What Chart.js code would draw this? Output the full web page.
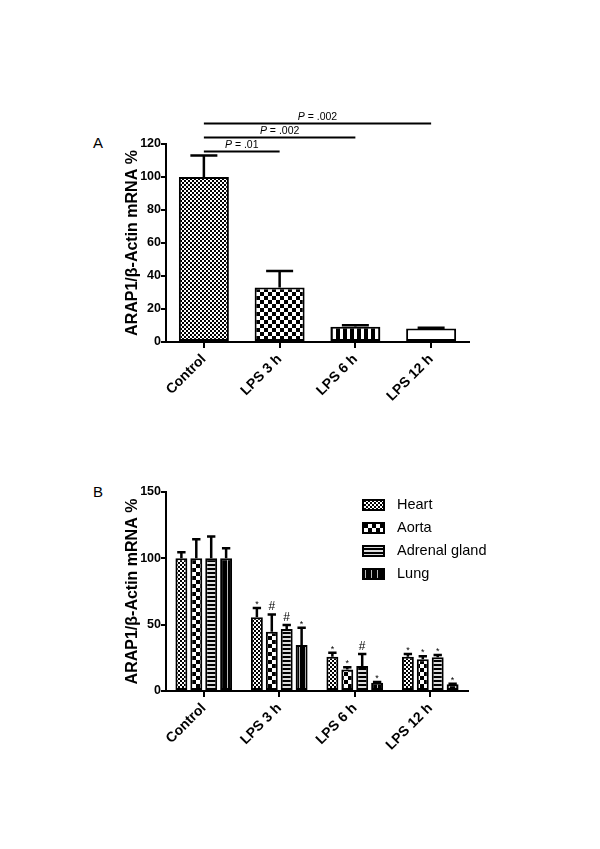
<!DOCTYPE html>
<html>
<head>
<meta charset="utf-8">
<script src="https://cdn.jsdelivr.net/npm/chart.js@4.4.0/dist/chart.umd.min.js"></script>
<style>
  body { margin: 0; background: #fff; width: 600px; height: 849px; position: relative; overflow: hidden;
         font-family: "Liberation Sans", Arial, sans-serif; }
  canvas { position: absolute; left: 0; }
  #chartA { top: 0; }
  #chartB { top: 440px; }
  .panel { position: absolute; font-size: 15px; color: #000; }
</style>
</head>
<body>
<div class="panel" style="left:93px;top:134px">A</div>
<div class="panel" style="left:93px;top:483px">B</div>
<canvas id="chartA" width="600" height="440"></canvas>
<canvas id="chartB" width="600" height="340"></canvas>
<script>
// panel A
const groupsA = ['Control', 'LPS 3 h', 'LPS 6 h', 'LPS 12 h'];
const meanA = [100, 33, 9.3, 8.2];
const sdA = [13, 10, 0.8, 0.4];
// significance brackets in panel A (category index from/to, height in % units)
const sigFrom = [0, 0, 0];
const sigTo = [1, 2, 3];
const sigLevel = [115.5, 124, 132.5];
const sigText = ['.01', '.002', '.002'];

// panel B
const groupsB = ['Control', 'LPS 3 h', 'LPS 6 h', 'LPS 12 h'];
const tissues = ['Heart', 'Aorta', 'Adrenal gland', 'Lung'];
const heart = [100, 55.5, 25.8, 25.8];
const aorta = [100, 44.7, 16.3, 24];
const adrenal = [100, 46.8, 18.9, 25.4];
const lung = [100, 34.7, 6.3, 5];
const heartSd = [4.5, 7, 3, 2];
const aortaSd = [14.4, 13, 1.6, 2.2];
const adrenalSd = [16.4, 3, 9, 1.8];
const lungSd = [7.6, 13, 0.4, 0.5];
const heartMarks = ['', '*', '*', '*'];
const aortaMarks = ['', '#', '*', '*'];
const adrenalMarks = ['', '#', '#', '*'];
const lungMarks = ['', '*', '*', '*'];

const FONT = '"Liberation Sans", Arial, sans-serif';
Chart.defaults.font.family = FONT;
Chart.defaults.color = '#000';

function makePattern(kind) {
  const c = document.createElement('canvas');
  const g = c.getContext('2d');
  if (kind === 'fine' || kind === 'coarse') {
    const s = kind === 'fine' ? 2 : 4;
    c.width = c.height = s * 2;
    g.fillStyle = '#fff'; g.fillRect(0, 0, s * 2, s * 2);
    g.fillStyle = '#000'; g.fillRect(0, 0, s, s); g.fillRect(s, s, s, s);
  } else if (kind === 'hstripe') {
    c.width = 4; c.height = 4;
    g.fillStyle = '#000'; g.fillRect(0, 0, 4, 4);
    g.fillStyle = '#ddd'; g.fillRect(0, 2, 4, 2);
  } else if (kind === 'vstripe') {
    c.width = 7; c.height = 4;
    g.fillStyle = '#fff'; g.fillRect(0, 0, 7, 4);
    g.fillStyle = '#000'; g.fillRect(0, 0, 4, 4);
  } else if (kind === 'vline') {
    c.width = 6; c.height = 4;
    g.fillStyle = '#000'; g.fillRect(0, 0, 6, 4);
    g.fillStyle = '#bbb'; g.fillRect(5, 0, 1, 4);
  }
  return g.createPattern(c, 'repeat');
}

const errorBars = {
  id: 'errorBars',
  afterDatasetsDraw(chart, args, opts) {
    const ctx = chart.ctx, y = chart.scales.y;
    chart.data.datasets.forEach((ds, di) => {
      chart.getDatasetMeta(di).data.forEach((bar, i) => {
        const top = y.getPixelForValue(ds.data[i] + ds.sd[i]);
        const half = bar.width * opts.cap / 2;
        ctx.save();
        ctx.strokeStyle = '#000';
        ctx.lineWidth = opts.width;
        ctx.beginPath();
        ctx.moveTo(bar.x, bar.y);
        ctx.lineTo(bar.x, top);
        ctx.moveTo(bar.x - half, top);
        ctx.lineTo(bar.x + half, top);
        ctx.stroke();
        if (ds.marks && ds.marks[i]) {
          const m = ds.marks[i];
          ctx.fillStyle = '#000';
          ctx.textAlign = 'center';
          ctx.textBaseline = 'alphabetic';
          ctx.font = (m === '#' ? '12px ' : '9px ') + FONT;
          ctx.fillText(m, bar.x, top - (m === '#' ? 4 : 1));
        }
        ctx.restore();
      });
    });
  }
};

const sigBrackets = {
  id: 'sigBrackets',
  afterDraw(chart) {
    const ctx = chart.ctx, x = chart.scales.x, y = chart.scales.y;
    sigFrom.forEach((f, k) => {
      const x1 = x.getPixelForValue(f), x2 = x.getPixelForValue(sigTo[k]);
      const yy = y.getPixelForValue(sigLevel[k]);
      ctx.save();
      ctx.strokeStyle = '#000';
      ctx.lineWidth = 2;
      ctx.beginPath();
      ctx.moveTo(x1, yy);
      ctx.lineTo(x2, yy);
      ctx.stroke();
      const pFont = 'italic 10.5px ' + FONT, rFont = '10.5px ' + FONT;
      const rest = ' = ' + sigText[k];
      ctx.font = pFont; const wP = ctx.measureText('P').width;
      ctx.font = rFont; const wR = ctx.measureText(rest).width;
      let tx = (x1 + x2) / 2 - (wP + wR) / 2;
      ctx.fillStyle = '#000';
      ctx.textAlign = 'left';
      ctx.textBaseline = 'alphabetic';
      ctx.font = pFont; ctx.fillText('P', tx, yy - 3);
      ctx.font = rFont; ctx.fillText(rest, tx + wP, yy - 3);
      ctx.restore();
    });
  }
};

const legendB = {
  id: 'legendB',
  afterDraw(chart) {
    const ctx = chart.ctx, area = chart.chartArea;
    chart.data.datasets.forEach((ds, i) => {
      const bx = area.left + 197, cy = area.top + 13 + i * 23;
      ctx.save();
      ctx.fillStyle = ds.backgroundColor;
      ctx.fillRect(bx, cy - 5, 21, 10);
      ctx.strokeStyle = '#000';
      ctx.lineWidth = 2;
      ctx.strokeRect(bx, cy - 5, 21, 10);
      ctx.fillStyle = '#000';
      ctx.font = '14.5px ' + FONT;
      ctx.textAlign = 'left';
      ctx.textBaseline = 'middle';
      ctx.fillText(ds.label, bx + 34, cy);
      ctx.restore();
    });
  }
};

function axisOptions(yMax, step) {
  return {
    x: {
      grid: { offset: false, drawOnChartArea: false, drawTicks: true, tickLength: 6, color: '#000', lineWidth: 2 },
      border: { display: true, color: '#000', width: 2 },
      ticks: { autoSkip: false, minRotation: 45, maxRotation: 45, padding: 3,
               font: { size: 14, weight: 'bold' }, color: '#000' },
      afterFit(scale) { scale.height = 80; }
    },
    y: {
      min: 0, max: yMax,
      grid: { drawOnChartArea: false, drawTicks: true, tickLength: 5, color: '#000', lineWidth: 2 },
      border: { display: true, color: '#000', width: 2 },
      ticks: { stepSize: step, padding: 0, font: { size: 12.5, weight: 'bold' }, color: '#000' },
      title: { display: true, text: 'ARAP1/β-Actin mRNA %', padding: { top: 3, bottom: 0 },
               font: { size: 16, weight: 'bold' }, color: '#000' },
      afterFit(scale) { scale.width = 46; }
    }
  };
}

new Chart(document.getElementById('chartA'), {
  type: 'bar',
  data: {
    labels: groupsA,
    datasets: [{
      label: 'ARAP1',
      data: meanA,
      sd: sdA,
      backgroundColor: [makePattern('fine'), makePattern('coarse'), makePattern('vstripe'), '#fff'],
      borderColor: '#000',
      borderWidth: 2,
      borderSkipped: false,
      barPercentage: 0.66,
      categoryPercentage: 1
    }]
  },
  options: {
    responsive: false,
    animation: false,
    layout: { padding: { left: 120, top: 144, right: 131, bottom: 18 } },
    plugins: { legend: { display: false }, tooltip: { enabled: false },
               errorBars: { cap: 0.54, width: 2.5 } },
    scales: axisOptions(120, 20)
  },
  plugins: [errorBars, sigBrackets]
});

const seriesB = [heart, aorta, adrenal, lung];
const sdB = [heartSd, aortaSd, adrenalSd, lungSd];
const marksB = [heartMarks, aortaMarks, adrenalMarks, lungMarks];
const fillsB = [makePattern('fine'), makePattern('coarse'), makePattern('hstripe'), makePattern('vline')];

new Chart(document.getElementById('chartB'), {
  type: 'bar',
  data: {
    labels: groupsB,
    datasets: tissues.map((t, i) => ({
      label: t,
      data: seriesB[i],
      sd: sdB[i],
      marks: marksB[i],
      backgroundColor: fillsB[i],
      borderColor: '#000',
      borderWidth: 2,
      borderSkipped: false,
      barPercentage: 0.8,
      categoryPercentage: 0.79
    }))
  },
  options: {
    responsive: false,
    animation: false,
    layout: { padding: { left: 120, top: 52, right: 132, bottom: 9 } },
    plugins: { legend: { display: false }, tooltip: { enabled: false },
               errorBars: { cap: 0.7, width: 2.5 } },
    scales: axisOptions(150, 50)
  },
  plugins: [errorBars, legendB]
});
</script>
</body>
</html>
